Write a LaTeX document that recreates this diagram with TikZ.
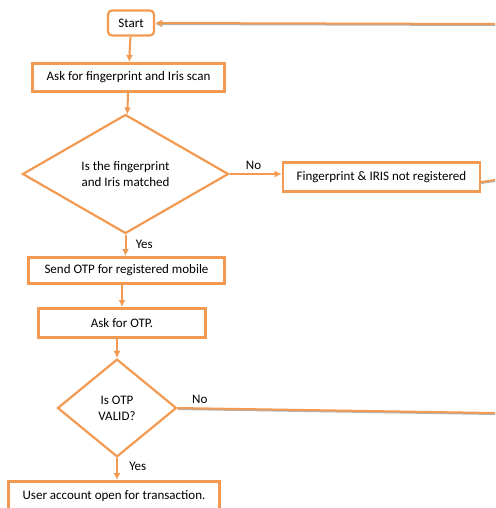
\documentclass[tikz,border=0pt]{standalone}
\usepackage{fontspec}
\setmainfont{Carlito}
\usetikzlibrary{positioning,shapes.geometric,arrows.meta}
\definecolor{flow}{RGB}{242,153,82}

\begin{document}
\begin{tikzpicture}[x=1pt,y=-1pt,>={Latex[length=7pt,width=7pt]},thick,
    font=\fontsize{13}{16}\selectfont,
    step box/.style={draw=flow,line width=2.6pt,rectangle,minimum height=28.4pt,inner sep=2pt},
    start box/.style={draw=flow,line width=2.2pt,rectangle,rounded corners=4pt,minimum width=46pt,minimum height=25pt},
    test box/.style={draw=flow,line width=2.2pt,diamond,aspect=1.7,inner sep=0pt,align=center},
    flow line/.style={draw=flow,line width=2pt},
    long line/.style={flow line,preaction={draw=gray!60,line width=2pt,transform canvas={yshift=-1pt}}}]
    \useasboundingbox (0,0) rectangle (495,508);

    \node[start box] (start) at (131,23) {Start};
    \node[step box,minimum width=192pt] (scan) [below=25.4pt of start,xshift=-2.5pt] {Ask for fingerprint and Iris scan};
    \node[test box,minimum width=206pt,minimum height=119pt] (match) [below=20.4pt of scan,xshift=-3pt] {Is the fingerprint\\and Iris matched};
    \node[step box,minimum width=197pt,minimum height=29.4pt] (notreg) [right=52pt of match,yshift=-3pt] {Fingerprint \& IRIS not registered};
    \node[step box,minimum width=196pt,minimum height=26.4pt] (sendotp) [below=21.4pt of match,xshift=1pt] {Send OTP for registered mobile};
    \node[step box,minimum width=167pt,minimum height=29.4pt] (askotp) [below=22pt of sendotp,xshift=-4.5pt] {Ask for OTP.};
    \node[test box,aspect=1.2,minimum width=119pt,minimum height=97.8pt] (valid) [below=19pt of askotp,xshift=-5pt] {Is OTP\\VALID?};
    \node[step box,minimum width=211pt,minimum height=29.4pt] (account) [below=22pt of valid,xshift=-3pt] {User account open for transaction.};

    % ends leaving the page on the right
    \coordinate (backtop) at (495,24);
    \coordinate (backmid) at (495,180);
    \coordinate (backlow) at (495,413);

    \draw[flow line,->] (start) -- (scan);
    \draw[flow line,->] (scan) -- (match);
    \draw[flow line,->] (match.east) -- node[above,text=black,xshift=-2pt] {No} (match.east -| notreg.west);
    \draw[flow line,->] (match.south) -- node[right,text=black,xshift=6pt,pos=0.45] {Yes} (match.south |- sendotp.north);
    \draw[flow line,->] (sendotp.south -| askotp) -- (askotp);
    \draw[flow line,->] (askotp.south -| valid) -- (valid);
    \draw[flow line,->] (valid.south) -- node[right,text=black,xshift=8pt,pos=0.4] {Yes} (valid.south |- account.north);

    \draw[long line] (valid.east) -- node[above,text=black,pos=0.07] {No} (backlow);
    \draw[long line] ([yshift=-5pt]notreg.east) -- (backmid);
    \draw[long line,->,fill=flow] (backtop) -- (start.east);
\end{tikzpicture}
\end{document}
